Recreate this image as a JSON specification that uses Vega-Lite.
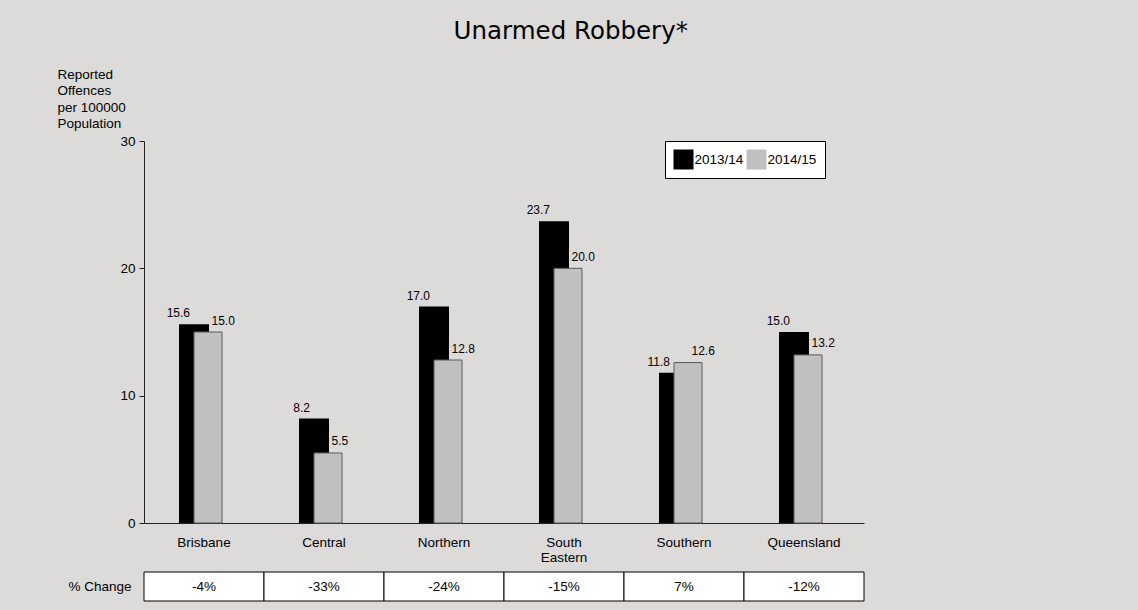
{
  "$schema": "https://vega.github.io/schema/vega-lite/v6.json",
  "background": "#dcdbd9",
  "padding": {"left": 57, "top": 18, "right": 273, "bottom": 15},
  "autosize": {"type": "pad"},
  "title": {"text": "Unarmed Robbery*", "font": "DejaVu Sans", "fontSize": 24.5, "fontWeight": "normal", "color": "#000000", "anchor": "middle", "dx": 110, "offset": 23},
  "datasets": {
    "bars": [
      {"region": "Brisbane", "year": "2013/14", "rate": 15.6},
      {"region": "Brisbane", "year": "2014/15", "rate": 15.0},
      {"region": "Central", "year": "2013/14", "rate": 8.2},
      {"region": "Central", "year": "2014/15", "rate": 5.5},
      {"region": "Northern", "year": "2013/14", "rate": 17.0},
      {"region": "Northern", "year": "2014/15", "rate": 12.8},
      {"region": "South Eastern", "year": "2013/14", "rate": 23.7},
      {"region": "South Eastern", "year": "2014/15", "rate": 20.0},
      {"region": "Southern", "year": "2013/14", "rate": 11.8},
      {"region": "Southern", "year": "2014/15", "rate": 12.6},
      {"region": "Queensland", "year": "2013/14", "rate": 15.0},
      {"region": "Queensland", "year": "2014/15", "rate": 13.2}
    ],
    "change": [
      {"region": "Brisbane", "row": "% Change", "change": "-4%"},
      {"region": "Central", "row": "% Change", "change": "-33%"},
      {"region": "Northern", "row": "% Change", "change": "-24%"},
      {"region": "South Eastern", "row": "% Change", "change": "-15%"},
      {"region": "Southern", "row": "% Change", "change": "7%"},
      {"region": "Queensland", "row": "% Change", "change": "-12%"}
    ]
  },
  "spacing": 7,
  "vconcat": [
    {
      "width": 720,
      "height": 382,
      "data": {"name": "bars"},
      "encoding": {
        "x": {
          "field": "region", "type": "nominal",
          "sort": ["Brisbane", "Central", "Northern", "South Eastern", "Southern", "Queensland"],
          "scale": {"paddingInner": 0, "paddingOuter": 0},
          "axis": {"title": null, "labelAngle": 0, "ticks": false, "labelPadding": 12, "labelExpr": "split(datum.label, ' ')", "labelLineHeight": 15, "labelFontSize": 13.5}
        },
        "y": {
          "field": "rate", "type": "quantitative",
          "scale": {"domain": [0, 30], "nice": false},
          "axis": {
            "values": [0, 10, 20, 30], "tickSize": 5, "labelPadding": 4, "labelFontSize": 13.5,
            "title": ["Reported", "Offences", "per 100000", "Population"],
            "titleAngle": 0, "titleAlign": "left", "titleBaseline": "top", "titleX": -87, "titleY": -74,
            "titleLineHeight": 16.5, "titleFontSize": 13.5, "titleFontWeight": "normal"
          }
        }
      },
      "layer": [
        {
          "transform": [{"filter": "datum.year == '2013/14'"}],
          "mark": {"type": "bar", "width": 30, "xOffset": -10},
          "encoding": {
            "color": {
              "field": "year", "type": "nominal",
              "scale": {"domain": ["2013/14", "2014/15"], "range": ["#000000", "#c0c0c0"]},
              "legend": {"title": null, "orient": "none", "legendX": 521, "legendY": 0, "direction": "horizontal", "symbolType": "square", "symbolSize": 400, "symbolStrokeWidth": 0, "labelFontSize": 13.5, "labelOffset": 1, "columnPadding": 3, "padding": 8.5, "fillColor": "#ffffff", "strokeColor": "#000000", "labelColor": "#000000"}
            }
          }
        },
        {
          "transform": [{"filter": "datum.year == '2014/15'"}],
          "mark": {"type": "bar", "width": 28, "xOffset": 4, "stroke": "#5a5a5a", "strokeWidth": 1},
          "encoding": {
            "color": {"field": "year", "type": "nominal", "scale": {"domain": ["2013/14", "2014/15"], "range": ["#000000", "#c0c0c0"]}}
          }
        },
        {
          "transform": [{"filter": "datum.year == '2013/14'"}],
          "mark": {"type": "text", "align": "right", "baseline": "alphabetic", "dx": -14, "dy": -7, "fontSize": 12, "color": "#000000"},
          "encoding": {"text": {"field": "rate", "type": "quantitative", "format": ".1f"}}
        },
        {
          "transform": [{"filter": "datum.year == '2014/15'"}],
          "mark": {"type": "text", "align": "left", "baseline": "alphabetic", "dx": 7.5, "dy": -7.5, "fontSize": 12, "color": "#000000"},
          "encoding": {"text": {"field": "rate", "type": "quantitative", "format": ".1f"}}
        }
      ]
    },
    {
      "width": 720,
      "height": 29,
      "data": {"name": "change"},
      "encoding": {
        "x": {
          "field": "region", "type": "nominal",
          "sort": ["Brisbane", "Central", "Northern", "South Eastern", "Southern", "Queensland"],
          "scale": {"paddingInner": 0, "paddingOuter": 0},
          "axis": null
        },
        "y": {
          "field": "row", "type": "nominal",
          "scale": {"paddingInner": 0, "paddingOuter": 0},
          "axis": {"title": null, "ticks": false, "domain": false, "labelPadding": 13, "labelFontSize": 13.5}
        }
      },
      "layer": [
        {"mark": {"type": "rect", "fill": "#ffffff", "stroke": "#000000", "strokeWidth": 1}},
        {"mark": {"type": "text", "fontSize": 13.5, "color": "#000000"}, "encoding": {"text": {"field": "change", "type": "nominal"}}}
      ]
    }
  ],
  "config": {
    "font": "Liberation Sans",
    "view": {"stroke": null},
    "axis": {"grid": false, "labelColor": "#000000", "titleColor": "#000000", "domainColor": "#222222", "tickColor": "#222222"}
  }
}
